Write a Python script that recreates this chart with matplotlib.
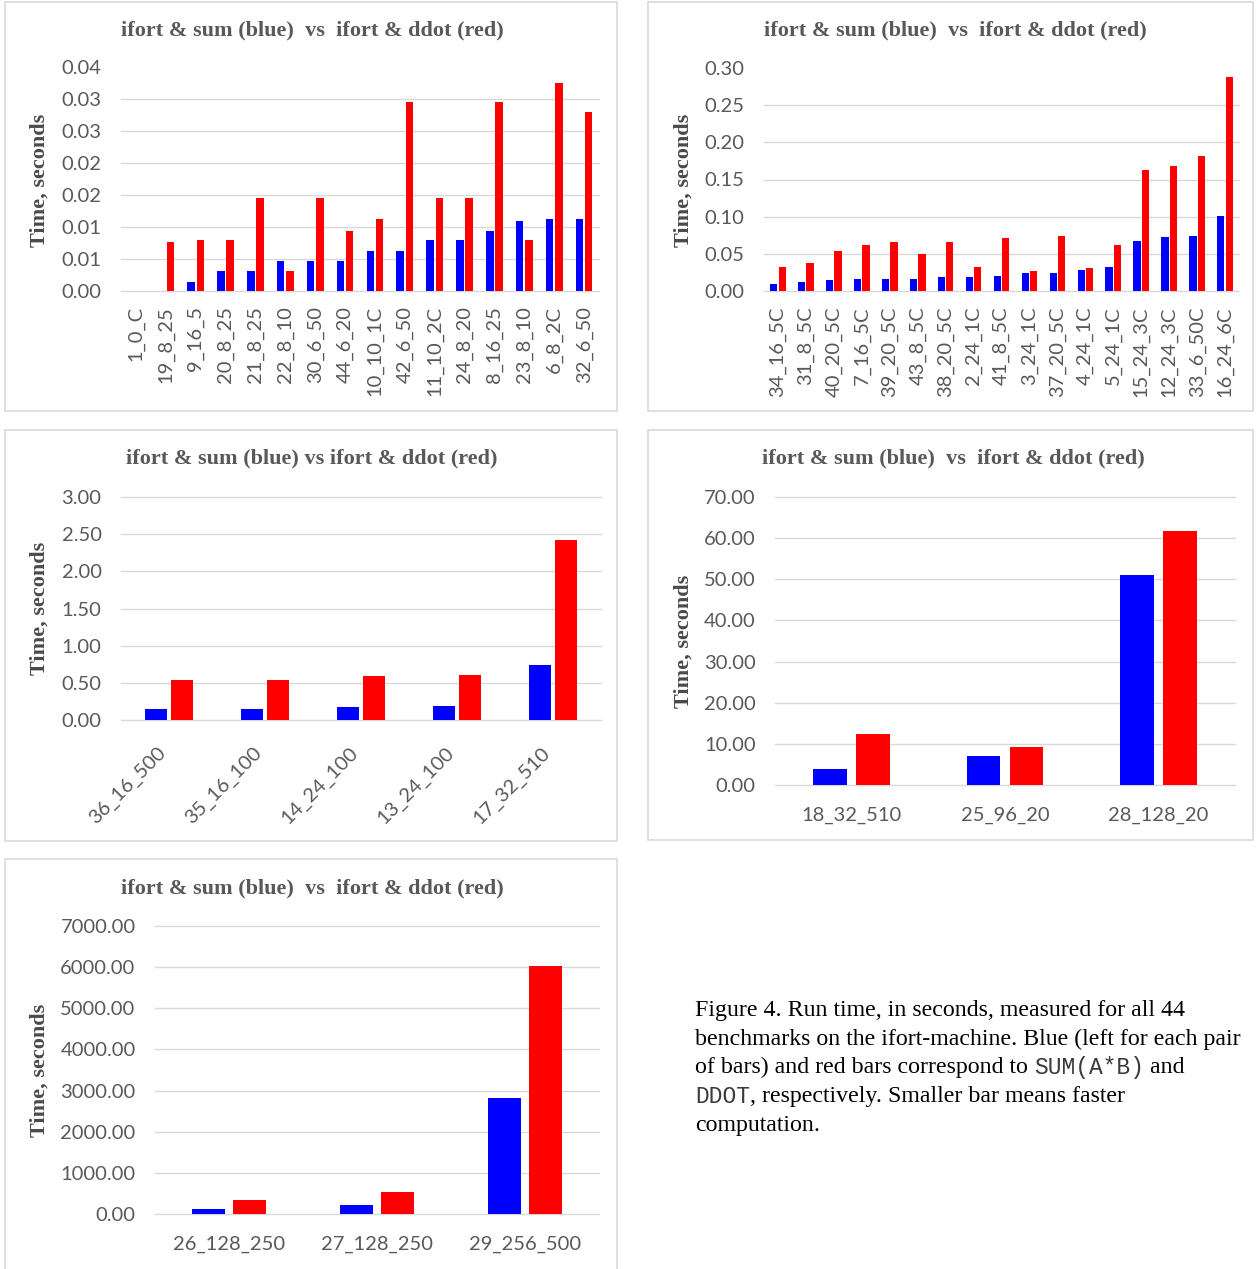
import numpy as np
import matplotlib
matplotlib.use("Agg")
import matplotlib.pyplot as plt
from matplotlib.patches import Rectangle
from matplotlib.transforms import ScaledTranslation

plt.rcParams['font.family'] = ['Lato', 'DejaVu Sans']

W, H = 1256, 1269
BLUE = '#0000ff'
RED = '#ff0000'
GRID = '#d9d9d9'
GRAY = '#595959'

# run times in seconds: sum(A*B) (blue) and ddot (red)
names_a = ['1_0_C', '19_8_25', '9_16_5', '20_8_25', '21_8_25', '22_8_10', '30_6_50', '44_6_20',
           '10_10_1C', '42_6_50', '11_10_2C', '24_8_20', '8_16_25', '23_8_10', '6_8_2C', '32_6_50']
sum_a = [0.0, 0.0, 0.0014, 0.0031, 0.0031, 0.0047, 0.0047, 0.0047,
         0.0063, 0.0063, 0.0079, 0.0079, 0.0094, 0.0110, 0.0112, 0.0112]
ddot_a = [0.0, 0.0076, 0.0079, 0.0079, 0.0145, 0.0031, 0.0145, 0.0094,
          0.0112, 0.0295, 0.0145, 0.0145, 0.0295, 0.0079, 0.0325, 0.0279]
yticks_a = [0.0, 0.005, 0.01, 0.015, 0.02, 0.025, 0.03, 0.035]
ylabels_a = ['0.00', '0.01', '0.01', '0.02', '0.02', '0.03', '0.03', '0.04']

names_b = ['34_16_5C', '31_8_5C', '40_20_5C', '7_16_5C', '39_20_5C', '43_8_5C', '38_20_5C', '2_24_1C',
           '41_8_5C', '3_24_1C', '37_20_5C', '4_24_1C', '5_24_1C', '15_24_3C', '12_24_3C', '33_6_50C',
           '16_24_6C']
sum_b = [0.0094, 0.0121, 0.0148, 0.0162, 0.0162, 0.0162, 0.0189, 0.0189,
         0.0202, 0.0243, 0.0243, 0.0283, 0.0323, 0.0674, 0.0728, 0.0741, 0.1010]
ddot_b = [0.0328, 0.0377, 0.0543, 0.0620, 0.0660, 0.0499, 0.0660, 0.0328,
          0.0714, 0.0269, 0.0741, 0.0310, 0.0620, 0.1630, 0.1684, 0.1819, 0.2883]
yticks_b = [0.0, 0.05, 0.10, 0.15, 0.20, 0.25, 0.30]
ylabels_b = ['0.00', '0.05', '0.10', '0.15', '0.20', '0.25', '0.30']

names_c = ['36_16_500', '35_16_100', '14_24_100', '13_24_100', '17_32_510']
sum_c = [0.152, 0.152, 0.179, 0.193, 0.743]
ddot_c = [0.542, 0.542, 0.596, 0.609, 2.422]
yticks_c = [0.0, 0.5, 1.0, 1.5, 2.0, 2.5, 3.0]
ylabels_c = ['0.00', '0.50', '1.00', '1.50', '2.00', '2.50', '3.00']

names_d = ['18_32_510', '25_96_20', '28_128_20']
sum_d = [3.89, 7.05, 51.0]
ddot_d = [12.4, 9.24, 61.7]
yticks_d = [0, 10, 20, 30, 40, 50, 60, 70]
ylabels_d = ['0.00', '10.00', '20.00', '30.00', '40.00', '50.00', '60.00', '70.00']

names_e = ['26_128_250', '27_128_250', '29_256_500']
sum_e = [121, 219, 2819]
ddot_e = [340, 535, 6028]
yticks_e = [0, 1000, 2000, 3000, 4000, 5000, 6000, 7000]
ylabels_e = ['0.00', '1000.00', '2000.00', '3000.00', '4000.00', '5000.00', '6000.00', '7000.00']

TITLE = 'ifort & sum (blue)  vs  ifort & ddot (red)'
TITLE_C = 'ifort & sum (blue) vs ifort & ddot (red)'

fig = plt.figure(figsize=(W / 100, H / 100), dpi=100)


def add_ax(x0, y0, x1, y1):
    return fig.add_axes([x0 / W, 1 - y1 / H, (x1 - x0) / W, (y1 - y0) / H])


def border(x0, y0, x1, y1):
    fig.patches.append(Rectangle((x0 / W, 1 - y1 / H), (x1 - x0) / W, (y1 - y0) / H,
                                 transform=fig.transFigure, fill=False, ec=GRID, lw=1.2))


def ftext(x, y, s, **kw):
    return fig.text(x / W, 1 - y / H, s, **kw)


def bars(ax, names, blue, red, ticks, labels, width, off, rot, xpad, top_line=True):
    x = np.arange(len(names))
    ax.bar(x - off, blue, width, color=BLUE, zorder=2)
    ax.bar(x + off, red, width, color=RED, zorder=2)
    ax.set_xlim(-0.5, len(names) - 0.5)
    ax.set_ylim(ticks[0], ticks[-1])
    ax.set_yticks(ticks, labels)
    for v in (ticks if top_line else ticks[:-1]):
        ax.axhline(v, color=GRID, lw=1, zorder=1, clip_on=False)
    if rot == 90:
        ax.set_xticks(x, names, rotation=90, ha='center', va='top')
    elif rot == 45:
        ax.set_xticks(x, names, rotation=45, ha='right', va='top')
        shift = ScaledTranslation(0.04, 0, fig.dpi_scale_trans)
        for lab in ax.get_xticklabels():
            lab.set_transform(lab.get_transform() + shift)
    else:
        ax.set_xticks(x, names)
    ax.tick_params(axis='both', length=0, labelsize=14.5, labelcolor=GRAY)
    ax.tick_params(axis='y', pad=14)
    ax.tick_params(axis='x', pad=xpad)
    for s in ax.spines.values():
        s.set_visible(False)
    ax.set_facecolor('none')


def heading(x, y, s):
    ftext(x, y, s, ha='center', va='center', fontsize=16, fontweight='bold',
          family='Liberation Serif', color=GRAY)


def ylab(x, y):
    ftext(x, y, 'Time, seconds', ha='center', va='center', rotation=90, fontsize=16,
          fontweight='bold', family='Liberation Serif', color='#4a4a4a')


# panel frames
border(5, 2, 617, 411)
border(648, 2, 1253, 411)
border(5, 430, 617, 841)
border(648, 430, 1253, 840)
border(5, 859, 617, 1275)

ax = add_ax(121, 67, 599, 291)
bars(ax, names_a, sum_a, ddot_a, yticks_a, ylabels_a, 0.25, 0.155, 90, 11, top_line=False)
heading(312, 30, TITLE)
ylab(40, 180)

ax = add_ax(764, 68, 1239, 291)
bars(ax, names_b, sum_b, ddot_b, yticks_b, ylabels_b, 0.26, 0.15, 90, 11, top_line=False)
heading(955, 30, TITLE)
ylab(684, 180)

ax = add_ax(121, 497, 601, 720)
bars(ax, names_c, sum_c, ddot_c, yticks_c, ylabels_c, 0.23, 0.14, 45, 17)
heading(312, 458, TITLE_C)
ylab(40, 608)

ax = add_ax(775, 497, 1235, 785)
bars(ax, names_d, sum_d, ddot_d, yticks_d, ylabels_d, 0.22, 0.14, 0, 16)
heading(953, 458, TITLE)
ylab(684, 641)

ax = add_ax(155, 926, 599, 1214)
bars(ax, names_e, sum_e, ddot_e, yticks_e, ylabels_e, 0.22, 0.14, 0, 16)
heading(312, 888, TITLE)
ylab(40, 1070)

# caption, with the code names set in a monospaced face
SERIF = dict(family='Liberation Serif', fontsize=17.2, color='black')
MONO = dict(family='Liberation Mono', fontsize=16.5, color='#3a3a3a')
caption = [
    [('Figure 4. Run time, in seconds, measured for all 44', SERIF)],
    [('benchmarks on the ifort-machine. Blue (left for each pair', SERIF)],
    [('of bars) and red bars correspond to ', SERIF), ('SUM(A*B)', MONO), (' and', SERIF)],
    [('DDOT', MONO), (', respectively. Smaller bar means faster', SERIF)],
    [('computation.', SERIF)],
]
fig.canvas.draw()
renderer = fig.canvas.get_renderer()
for i, line in enumerate(caption):
    x = 695
    y = 1008 + i * 28.7
    for s, style in line:
        t = ftext(x, y, s, ha='left', va='center_baseline', **style)
        x += t.get_window_extent(renderer).width

fig.savefig('out.png', dpi=100)
